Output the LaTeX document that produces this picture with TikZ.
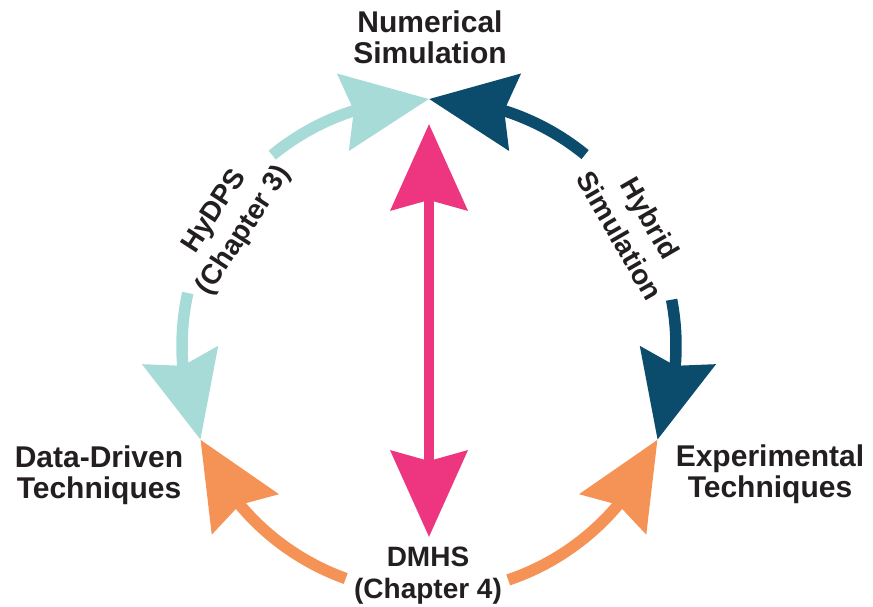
\documentclass[tikz,border=0pt]{standalone}
\usepackage{fontspec}
\setmainfont{Liberation Sans}
\usetikzlibrary{arrows.meta,bending,calc}
\definecolor{hydpscol}{HTML}{A7DBD8}
\definecolor{hybridcol}{HTML}{0B4C6C}
\definecolor{dmhscol}{HTML}{F59357}
\definecolor{directcol}{HTML}{EE3580}
\definecolor{txtcol}{HTML}{231F20}
\tikzset{lbl/.style={text=txtcol, align=center, inner sep=0pt,
font=\fontsize{30}{31}\selectfont\bfseries},
sublbl/.style={lbl, font=\fontsize{28}{32}\selectfont\bfseries},
arclbl/.style={lbl, font=\fontsize{28}{35}\selectfont\bfseries},
head/.tip={Stealth[length=86pt,width=76pt,inset=10pt]},
link/.style={line width=11.5pt, -head},
hydpsarc/.style={link, draw=hydpscol},
hybridarc/.style={link, draw=hybridcol},
dmhsarc/.style={link, draw=dmhscol},
direct/.style={line width=10pt, head-head, draw=directcol}}

\begin{document}
\begin{tikzpicture}[x=1pt,y=1pt]
  \useasboundingbox (0,0) rectangle (873,606);
  \coordinate (c) at (429,260);

  \node (num) [lbl] at (430,569) {Numerical\\Simulation};
  \node (ddt) [lbl] at (99,131) {Data-Driven\\Techniques};
  \node (exp) [lbl] at (770,132) {Experimental\\Techniques};
  \node (dmhs) [sublbl] at (428,30.5) {DMHS\\(Chapter 4)};
  \node (hydps) [arclbl,rotate=57] at ($(c)+(148:235)$) {HyDPS\\(Chapter 3)};
  \node (hybrid) [arclbl,rotate=-60] at ($(c)+(30:238)$) {Hybrid\\Simulation};

  % loose ends of the arcs
  \coordinate (hydps1) at ($(c)+(129.4:247)$);
  \coordinate (hydps2) at ($(c)+(167.6:247)$);
  \coordinate (hybrid1) at ($(c)+(50.8:247)$);
  \coordinate (hybrid2) at ($(c)+(10.8:247)$);
  \coordinate (dmhs1) at ($(c)+(250.3:247)$);
  \coordinate (dmhs2) at ($(c)+(288.7:247)$);
  \coordinate (numtip) at (429,482);
  \coordinate (dmhstip) at (429,69);

  \draw [hydpsarc] (hydps1) arc [start angle=129.4, end angle=90, radius=247];
  \draw [hydpsarc] (hydps2) arc [start angle=167.6, end angle=202.3, radius=247];
  \draw [hybridarc] (hybrid1) arc [start angle=50.8, end angle=90, radius=247];
  \draw [hybridarc] (hybrid2) arc [start angle=10.8, end angle=-22.3, radius=247];
  \draw [dmhsarc] (dmhs1) arc [start angle=250.3, end angle=202.3, radius=247];
  \draw [dmhsarc] (dmhs2) arc [start angle=288.7, end angle=337.7, radius=247];

  \draw [direct] (dmhstip) -- (numtip);
\end{tikzpicture}
\end{document}
